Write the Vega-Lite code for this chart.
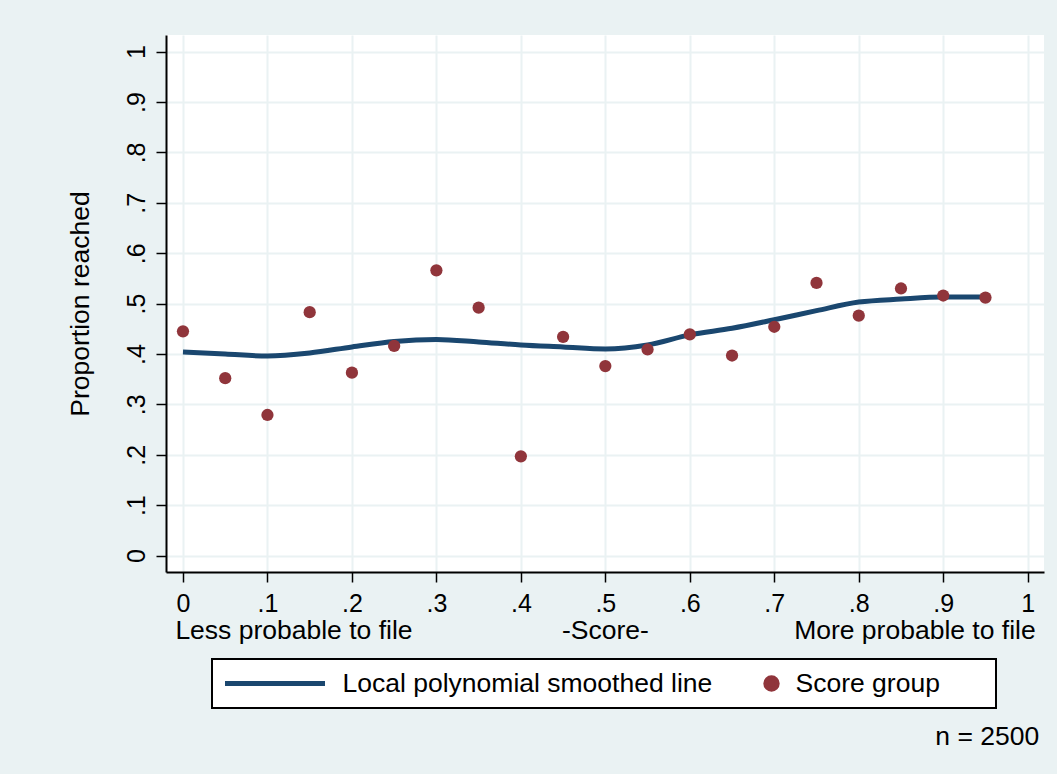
{
  "$schema": "https://vega.github.io/schema/vega-lite/v6.json",
  "width": 878,
  "height": 537,
  "autosize": {"type": "none"},
  "padding": {"left": 166, "top": 35, "right": 13, "bottom": 202},
  "background": "#EAF2F3",
  "config": {
    "font": "Liberation Sans",
    "view": {"stroke": null, "fill": "white"},
    "axis": {
      "domainColor": "black",
      "domainWidth": 2,
      "tickColor": "black",
      "tickWidth": 1.5,
      "tickSize": 10,
      "labelColor": "black",
      "labelFontSize": 25,
      "labelFont": "Liberation Sans",
      "titleColor": "black",
      "titleFont": "Liberation Sans",
      "titleFontSize": 26.5,
      "titleFontWeight": "normal",
      "gridColor": "#EAF2F3",
      "gridWidth": 2,
      "gridOpacity": 1,
      "labelFlush": false,
      "labelOverlap": false
    },
    "text": {"font": "Liberation Sans", "fontSize": 26.5, "color": "black"}
  },
  "datasets": {
    "smooth": [
      {"score": 0.0, "proportion": 0.404},
      {"score": 0.05, "proportion": 0.400},
      {"score": 0.1, "proportion": 0.396},
      {"score": 0.15, "proportion": 0.402},
      {"score": 0.2, "proportion": 0.414},
      {"score": 0.25, "proportion": 0.425},
      {"score": 0.3, "proportion": 0.429},
      {"score": 0.35, "proportion": 0.424},
      {"score": 0.4, "proportion": 0.418},
      {"score": 0.45, "proportion": 0.414},
      {"score": 0.5, "proportion": 0.410},
      {"score": 0.55, "proportion": 0.418},
      {"score": 0.6, "proportion": 0.438},
      {"score": 0.65, "proportion": 0.451},
      {"score": 0.7, "proportion": 0.468},
      {"score": 0.75, "proportion": 0.486},
      {"score": 0.8, "proportion": 0.503},
      {"score": 0.85, "proportion": 0.509},
      {"score": 0.9, "proportion": 0.513},
      {"score": 0.95, "proportion": 0.513}
    ],
    "groups": [
      {"score": 0.0, "proportion": 0.445},
      {"score": 0.05, "proportion": 0.352},
      {"score": 0.1, "proportion": 0.279},
      {"score": 0.15, "proportion": 0.483},
      {"score": 0.2, "proportion": 0.363},
      {"score": 0.25, "proportion": 0.416},
      {"score": 0.3, "proportion": 0.566},
      {"score": 0.35, "proportion": 0.492},
      {"score": 0.4, "proportion": 0.197},
      {"score": 0.45, "proportion": 0.434},
      {"score": 0.5, "proportion": 0.376},
      {"score": 0.55, "proportion": 0.409},
      {"score": 0.6, "proportion": 0.439},
      {"score": 0.65, "proportion": 0.397},
      {"score": 0.7, "proportion": 0.454},
      {"score": 0.75, "proportion": 0.541},
      {"score": 0.8, "proportion": 0.476},
      {"score": 0.85, "proportion": 0.530},
      {"score": 0.9, "proportion": 0.516},
      {"score": 0.95, "proportion": 0.512}
    ]
  },
  "layer": [
    {
      "data": {"name": "smooth"},
      "mark": {"type": "line", "interpolate": "monotone", "strokeWidth": 5, "strokeCap": "butt"},
      "encoding": {
        "x": {
          "field": "score",
          "type": "quantitative",
          "scale": {"domain": [-0.0201, 1.0193], "nice": false, "zero": false},
          "axis": {
            "title": null,
            "values": [0, 0.1, 0.2, 0.3, 0.4, 0.5, 0.6, 0.7, 0.8, 0.9, 1],
            "labelExpr": "datum.value == 0 ? '0' : datum.value == 1 ? '1' : replace(format(datum.value, '.1f'), '0.', '.')",
            "labelPadding": 9
          }
        },
        "y": {
          "field": "proportion",
          "type": "quantitative",
          "scale": {"domain": [-0.0326, 1.033], "nice": false, "zero": false},
          "axis": {
            "title": "Proportion reached",
            "values": [0, 0.1, 0.2, 0.3, 0.4, 0.5, 0.6, 0.7, 0.8, 0.9, 1],
            "labelExpr": "datum.value == 0 ? '0' : datum.value == 1 ? '1' : replace(format(datum.value, '.1f'), '0.', '.')",
            "labelAngle": 270,
            "labelAlign": "center",
            "labelBaseline": "bottom",
            "labelPadding": 7,
            "titlePadding": 30
          }
        },
        "color": {
          "datum": "Local polynomial smoothed line",
          "type": "nominal",
          "scale": {
            "domain": ["Local polynomial smoothed line", "Score group"],
            "range": ["#1A476F", "#90353B"]
          },
          "legend": {
            "title": ".",
            "titleOrient": "right",
            "titleFontSize": 26.5,
            "titleFontWeight": "normal",
            "titleColor": "white",
            "titleBaseline": "top",
            "titleAnchor": "start",
            "titlePadding": 38,
            "orient": "none",
            "legendX": 46,
            "legendY": 624,
            "direction": "horizontal",
            "padding": 10.5,
            "columnPadding": 47,
            "clipHeight": 28,
            "symbolSize": 10000,
            "symbolStrokeWidth": 5,
            "symbolType": "stroke",
            "labelFontSize": 26.5,
            "labelFont": "Liberation Sans",
            "labelColor": "black",
            "labelLimit": 0,
            "labelOffset": 15,
            "strokeColor": "black",
            "fillColor": "white",
            "encode": {
              "legend": {"update": {"strokeWidth": {"value": 2}}},
              "symbols": {
                "update": {
                  "shape": {"signal": "(datum.value === 'Score group' ? 'circle' : 'stroke')"},
                  "size": {"signal": "(datum.value === 'Score group' ? 130 : 10000)"},
                  "strokeWidth": {"value": 5},
                  "fill": {"signal": "(datum.value === 'Score group' ? '#90353B' : 'transparent')"},
                  "stroke": {"signal": "(datum.value === 'Score group' ? 'transparent' : '#1A476F')"},
                  "opacity": {"value": 1},
                  "x": {"signal": "(datum.value === 'Score group' ? 12 : 52.5)"}
                }
              },
              "labels": {
                "update": {
                  "x": {"signal": "(datum.value === 'Score group' ? 36 : 120)"}
                }
              }
            }
          }
        }
      }
    },
    {
      "data": {"name": "groups"},
      "mark": {"type": "point", "filled": true, "size": 150, "opacity": 1},
      "encoding": {
        "x": {"field": "score", "type": "quantitative"},
        "y": {"field": "proportion", "type": "quantitative"},
        "color": {"datum": "Score group", "type": "nominal"}
      }
    },
    {
      "data": {"values": [{}]},
      "mark": {"type": "text", "text": "Less probable to file", "align": "left", "baseline": "middle"},
      "encoding": {
        "x": {"datum": -0.009, "type": "quantitative"},
        "y": {"datum": -0.15, "type": "quantitative"}
      }
    },
    {
      "data": {"values": [{}]},
      "mark": {"type": "text", "text": "-Score-", "align": "center", "baseline": "middle"},
      "encoding": {
        "x": {"datum": 0.5, "type": "quantitative"},
        "y": {"datum": -0.15, "type": "quantitative"}
      }
    },
    {
      "data": {"values": [{}]},
      "mark": {"type": "text", "text": "More probable to file", "align": "right", "baseline": "middle"},
      "encoding": {
        "x": {"datum": 1.0095, "type": "quantitative"},
        "y": {"datum": -0.15, "type": "quantitative"}
      }
    },
    {
      "data": {"values": [{}]},
      "mark": {"type": "text", "text": "n = 2500", "align": "right", "baseline": "middle"},
      "encoding": {
        "x": {"datum": 1.0137, "type": "quantitative"},
        "y": {"datum": -0.361, "type": "quantitative"}
      }
    }
  ]
}
